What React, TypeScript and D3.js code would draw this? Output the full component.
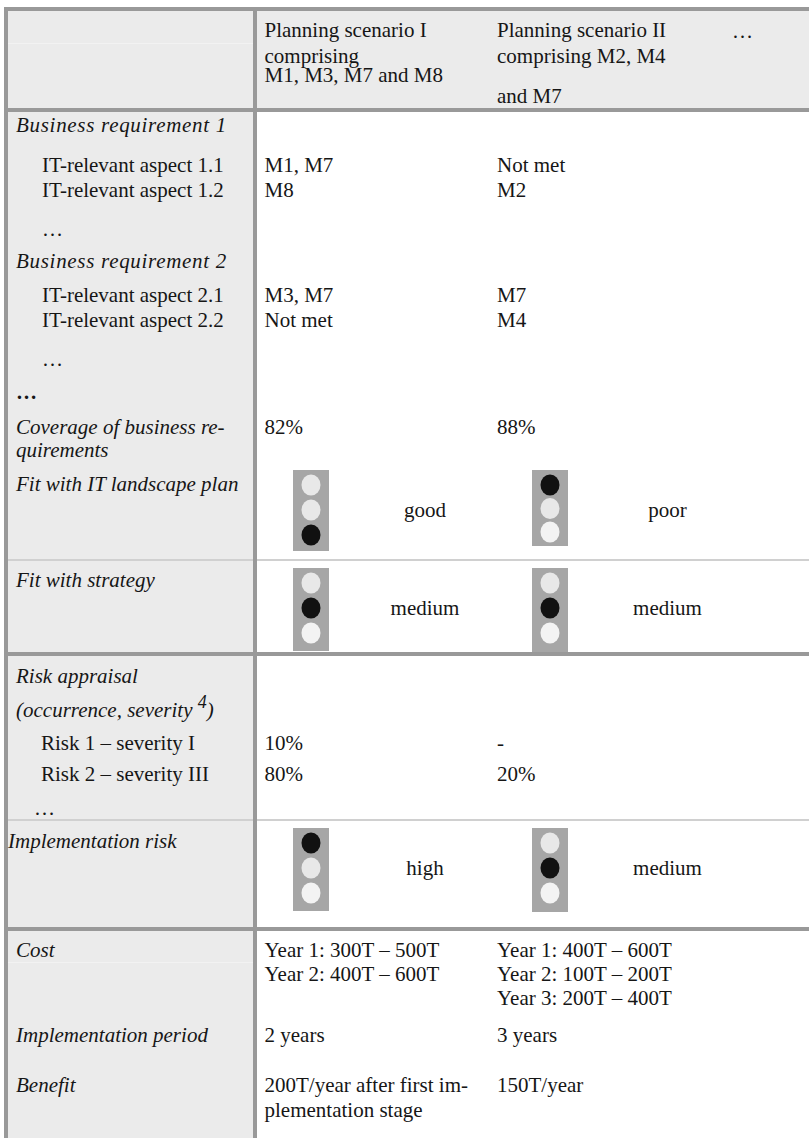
import React from "react";
import * as d3 from "d3";

// ---------- DATA ----------
const scenarioHeaderI = ["Planning scenario I", "comprising", "M1, M3, M7 and M8"];
const scenarioHeaderII = ["Planning scenario II", "comprising M2, M4", "and M7"];
const moreScenarios = "…";

const rowKeys = [
  "br1", "a11", "a12", "dots1", "br2", "a21", "a22", "dots2", "more",
  "coverage", "fitIT", "fitStrat", "riskApp", "riskOcc", "risk1", "risk2",
  "dots3", "implRisk", "cost", "period", "benefit",
];
const rowLabels = [
  "Business requirement 1", "IT-relevant aspect 1.1", "IT-relevant aspect 1.2", "…",
  "Business requirement 2", "IT-relevant aspect 2.1", "IT-relevant aspect 2.2", "…", "…",
  "Coverage of business re-\nquirements", "Fit with IT landscape plan", "Fit with strategy",
  "Risk appraisal", "(occurrence, severity ^4)", "Risk 1 – severity I", "Risk 2 – severity III",
  "…", "Implementation risk", "Cost", "Implementation period", "Benefit",
];
const scenarioIValues = [
  "", "M1, M7", "M8", "", "", "M3, M7", "Not met", "", "",
  "82%", "", "", "", "", "10%", "80%", "", "",
  "Year 1: 300T – 500T\nYear 2: 400T – 600T", "2 years",
  "200T/year after first im-\nplementation stage",
];
const scenarioIIValues = [
  "", "Not met", "M2", "", "", "M7", "M4", "", "",
  "88%", "", "", "", "", "-", "20%", "", "",
  "Year 1: 400T – 600T\nYear 2: 100T – 200T\nYear 3: 200T – 400T", "3 years",
  "150T/year",
];
const lightRows = ["fitIT", "fitStrat", "implRisk"];
const lampNames = ["top", "middle", "bottom"];
const scenarioILit = [2, 1, 0];
const scenarioIILit = [0, 1, 1];
const scenarioILightLabels = ["good", "medium", "high"];
const scenarioIILightLabels = ["poor", "medium", "medium"];

// ---------- LAYOUT ----------
const W = 809;
const H = 1138;
const FONT = "'Liberation Serif', 'Times New Roman', serif";
const FS = 21;
const BORDER = "#999999";
const CELL = "#ebebeb";
const INK = "#161616";

const rowBaseline = d3
  .scaleOrdinal<string, number>()
  .domain(rowKeys)
  .range([132, 172, 197, 236, 268, 302, 327, 366, 399, 434, 491, 587, 683, 717, 750, 781, 815, 848, 957, 1042, 1092]);

const rowLineStep: Record<string, number> = { coverage: 23, cost: 24, benefit: 25 };

const labelStyle: Record<string, { x: number; italic?: boolean; bold?: boolean; ls?: number }> = {
  br1: { x: 16, italic: true, ls: 0.7 },
  a11: { x: 42 }, a12: { x: 42 }, dots1: { x: 42 },
  br2: { x: 16, italic: true, ls: 0.7 },
  a21: { x: 42 }, a22: { x: 42 }, dots2: { x: 42 },
  more: { x: 16, bold: true },
  coverage: { x: 16, italic: true }, fitIT: { x: 16, italic: true }, fitStrat: { x: 16, italic: true },
  riskApp: { x: 16, italic: true }, riskOcc: { x: 16, italic: true },
  risk1: { x: 41 }, risk2: { x: 41 }, dots3: { x: 34 },
  implRisk: { x: 8, italic: true },
  cost: { x: 16, italic: true }, period: { x: 16, italic: true }, benefit: { x: 16, italic: true },
};

const colX = d3.scaleOrdinal<number, number>().domain([0, 1]).range([264.5, 497]);
const lightBoxX = d3.scaleOrdinal<number, number>().domain([0, 1]).range([293, 532]);
const lightLabelX = d3.scaleOrdinal<number, number>().domain([0, 1]).range([425, 667.5]);
const lightTop = d3.scaleOrdinal<string, number>().domain(lightRows).range([470, 568, 828]);
const lampY = d3.scalePoint<string>().domain(lampNames).range([15, 65]);

const headerY = [37, 63, 82];
const headerYII = [37, 63, 103];

function TrafficLight({ x, top, lit, h }: { x: number; top: number; lit: number; h: number }) {
  return (
    <g>
      <rect x={x} y={top} width={36} height={h} fill="#a6a6a6" />
      {lampNames.map((n, i) => (
        <ellipse
          key={n}
          cx={x + 18}
          cy={top + (lampY(n) as number) + (h < 80 ? -i * 1.5 : 0)}
          rx={9.5}
          ry={10.5}
          fill={i === lit ? "#111111" : i === 2 ? "#f3f3f3" : "#e8e8e8"}
        />
      ))}
    </g>
  );
}

function renderLabel(key: string, text: string) {
  const st = labelStyle[key];
  const y = rowBaseline(key);
  const lines = text.split("\n");
  const step = rowLineStep[key] ?? 24;
  if (text.includes("^")) {
    const [a, b] = text.split("^");
    return (
      <text key={key} x={st.x} y={y} fontStyle="italic">
        {a}
        <tspan dy={-9} fontSize={18}>{b.replace(")", "")}</tspan>
        <tspan dy={9}>)</tspan>
      </text>
    );
  }
  return (
    <text
      key={key}
      x={st.x}
      y={y}
      fontStyle={st.italic ? "italic" : "normal"}
      fontWeight={st.bold ? "bold" : "normal"}
      letterSpacing={st.ls ?? 0}
    >
      {lines.map((l, i) => (
        <tspan key={i} x={st.x} y={y + i * step}>{l}</tspan>
      ))}
    </text>
  );
}

function renderValue(key: string, col: number, text: string) {
  if (!text) return null;
  const y = rowBaseline(key);
  const step = rowLineStep[key] ?? 24;
  const x = colX(col);
  return (
    <text key={key + col} x={x} y={y}>
      {text.split("\n").map((l, i) => (
        <tspan key={i} x={x} y={y + i * step}>{l}</tspan>
      ))}
    </text>
  );
}

export default function App() {
  return (
    <svg
      width={W}
      height={H}
      style={{ position: "absolute", left: 0, top: 0, background: "#ffffff" }}
      fontFamily={FONT}
      fontSize={FS}
      fill={INK}
    >
      {/* backgrounds */}
      <rect x={8} y={11} width={245} height={H - 11} fill={CELL} />
      <rect x={257} y={11} width={W - 257} height={97} fill={CELL} />
      {/* faint cell lines in left column */}
      <rect x={8} y={43} width={245} height={1} fill="#f2f2f2" />
      <rect x={8} y={962} width={245} height={1} fill="#f2f2f2" />
      {/* thin separators */}
      <rect x={8} y={559} width={W - 8} height={2} fill="#d0d0d0" />
      <rect x={8} y={819} width={W - 8} height={2} fill="#d0d0d0" />
      {/* thick borders */}
      <rect x={4} y={7} width={W - 4} height={4} fill={BORDER} />
      <rect x={4} y={108} width={W - 4} height={4} fill={BORDER} />
      <rect x={4} y={652} width={W - 4} height={4} fill={BORDER} />
      <rect x={4} y={927} width={W - 4} height={4} fill={BORDER} />
      <rect x={4} y={7} width={4} height={H - 7} fill={BORDER} />
      <rect x={253} y={11} width={4} height={H - 11} fill={BORDER} />

      {/* header */}
      {scenarioHeaderI.map((l, i) => (
        <text key={"h1" + i} x={colX(0)} y={headerY[i]}>{l}</text>
      ))}
      {scenarioHeaderII.map((l, i) => (
        <text key={"h2" + i} x={colX(1)} y={headerYII[i]}>{l}</text>
      ))}
      <text x={732} y={38}>{moreScenarios}</text>

      {/* body labels & values */}
      {rowKeys.map((k, i) => renderLabel(k, rowLabels[i]))}
      {rowKeys.map((k, i) => renderValue(k, 0, scenarioIValues[i]))}
      {rowKeys.map((k, i) => renderValue(k, 1, scenarioIIValues[i]))}

      {/* traffic lights */}
      {lightRows.map((r, i) => (
        <g key={r}>
          <TrafficLight x={lightBoxX(0)} top={lightTop(r)} lit={scenarioILit[i]} h={r === "fitIT" ? 81 : 83} />
          <TrafficLight x={lightBoxX(1)} top={lightTop(r)} lit={scenarioIILit[i]} h={r === "fitIT" ? 76 : 84} />
          <text x={lightLabelX(0)} y={lightTop(r) + 47} textAnchor="middle">{scenarioILightLabels[i]}</text>
          <text x={lightLabelX(1)} y={lightTop(r) + 47} textAnchor="middle">{scenarioIILightLabels[i]}</text>
        </g>
      ))}
    </svg>
  );
}
